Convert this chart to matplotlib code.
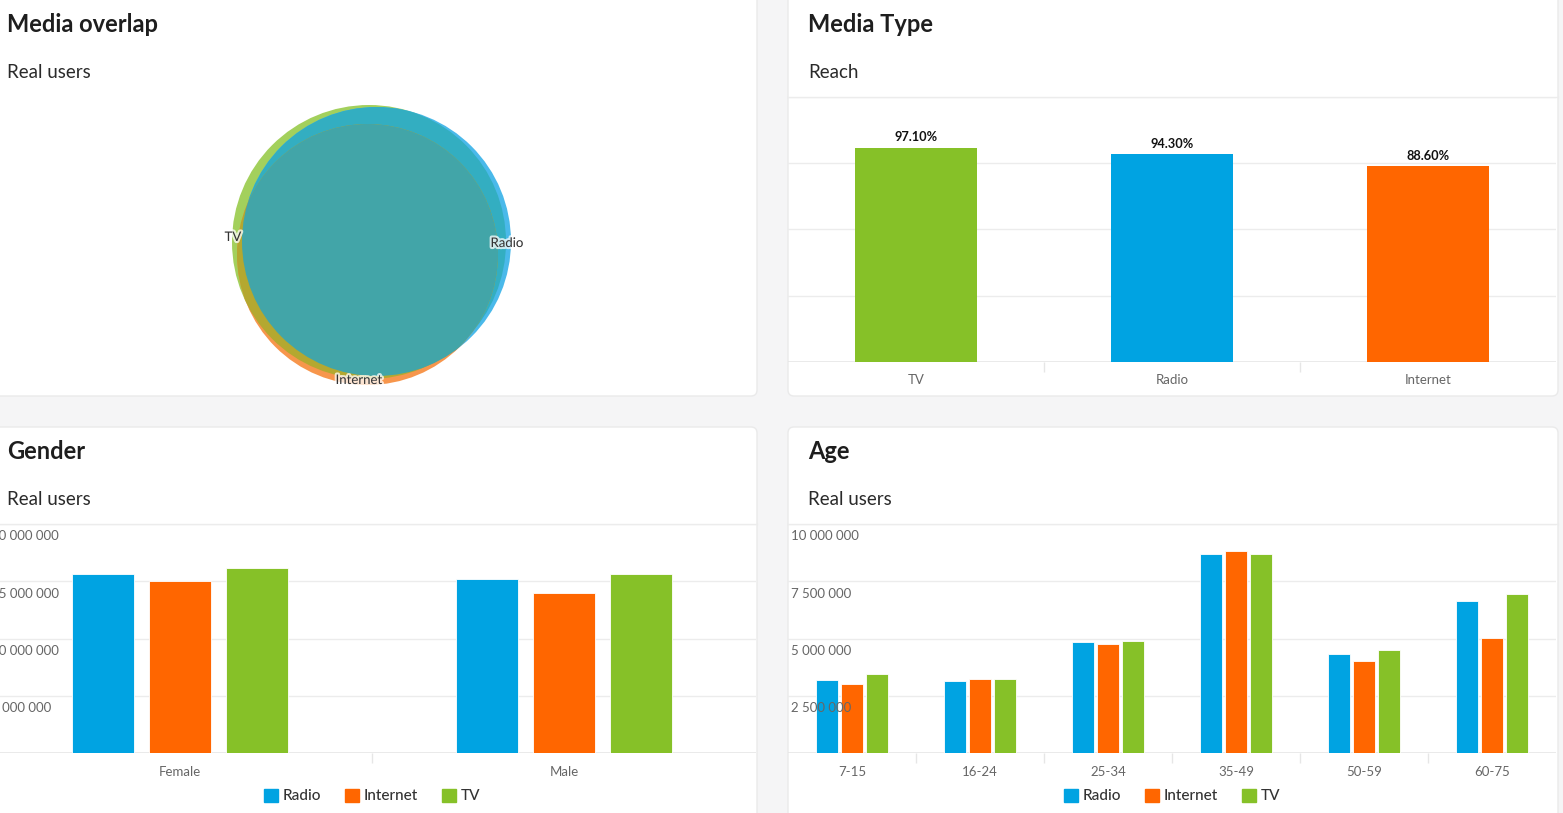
import matplotlib
matplotlib.use("Agg")
import matplotlib.pyplot as plt
from matplotlib.patches import Circle, FancyBboxPatch, Patch
import matplotlib.patheffects as pe
import numpy as np

plt.rcParams['font.family'] = ['Lato', 'DejaVu Sans']

# ---- data ----
media_types = ['TV', 'Radio', 'Internet']
reach = [97.1, 94.3, 88.6]

series = ['Radio', 'Internet', 'TV']

genders = ['Female', 'Male']
gender_radio = [15.65e6, 15.22e6]
gender_internet = [15.0e6, 14.0e6]
gender_tv = [16.14e6, 15.65e6]

ages = ['7-15', '16-24', '25-34', '35-49', '50-59', '60-75']
age_radio = [3.19e6, 3.13e6, 4.85e6, 8.67e6, 4.33e6, 6.62e6]
age_internet = [3.03e6, 3.23e6, 4.75e6, 8.83e6, 4.01e6, 5.01e6]
age_tv = [3.45e6, 3.23e6, 4.91e6, 8.71e6, 4.49e6, 6.94e6]

# ---- style ----
C_RADIO = '#00a3e2'
C_INTERNET = '#ff6600'
C_TV = '#86c128'
colors = {'Radio': C_RADIO, 'Internet': C_INTERNET, 'TV': C_TV}
GRID = '#ececec'
TICK = '#666666'
W, H = 1563, 813

fig = plt.figure(figsize=(W / 100, H / 100), dpi=100)
fig.patch.set_facecolor('#f5f5f6')

# pixel-space background axes
bg = fig.add_axes([0, 0, 1, 1], zorder=-1)
bg.set_xlim(0, W)
bg.set_ylim(H, 0)
bg.axis('off')


def px_axes(x0, y0, x1, y1):
    return fig.add_axes([x0 / W, 1 - y1 / H, (x1 - x0) / W, (y1 - y0) / H])


def panel(x0, y0, x1, y1):
    p = FancyBboxPatch((x0, y0), x1 - x0, y1 - y0,
                       boxstyle='round,pad=0,rounding_size=6',
                       fc='white', ec='#eaeaea', lw=1)
    bg.add_patch(p)


def header(x, y, title, sub):
    bg.text(x, y, title, fontsize=17, fontweight='bold', color='#1e1e1e',
            va='center', ha='left')
    bg.text(x, y + 48, sub, fontsize=13.5, color='#2a2a2a', va='center', ha='left')


panel(-13, -8, 757, 396)
panel(788, -8, 1558, 396)
panel(-13, 427, 757, 830)
panel(788, 427, 1558, 830)

header(7, 24, 'Media overlap', 'Real users')
header(808, 24, 'Media Type', 'Reach')
header(7, 451, 'Gender', 'Real users')
header(808, 451, 'Age', 'Real users')

bg.plot([788, 1558], [97, 97], color=GRID, lw=1)
bg.plot([-13, 757], [524, 524], color=GRID, lw=1)
bg.plot([788, 1558], [524, 524], color=GRID, lw=1)

# ---- Venn ----
venn = {
    'TV': (369, 242, 137),
    'Radio': (376.5, 241.5, 134.5),
    'Internet': (367.5, 254.5, 130.5),
}


def circ(name, **kw):
    x, y, r = venn[name]
    return Circle((x, y), r, transform=bg.transData, **kw)


bg.add_patch(circ('TV', fc='#a3d05c', ec='none'))
bg.add_patch(circ('Radio', fc='#4ab9ea', ec='none'))
bg.add_patch(circ('Internet', fc='#f7964c', ec='none'))
p = circ('Radio', fc='#33aec1', ec='none')
p.set_clip_path(circ('TV'))
bg.add_patch(p)
p = circ('Internet', fc='#b4a830', ec='none')
p.set_clip_path(circ('TV'))
bg.add_patch(p)
p = circ('Internet', fc='#42a5a8', ec='none')
p.set_clip_path(circ('Radio'))
bg.add_patch(p)

halo = [pe.withStroke(linewidth=3, foreground='white', alpha=0.75)]
for txt, (lx, ly) in zip(['TV', 'Radio', 'Internet'], [(233, 237), (507, 243), (359, 380)]):
    bg.text(lx, ly, txt, fontsize=9.5, color='#333333', ha='center', va='center',
            path_effects=halo)


def style_axes(ax, ncat, ymax, yticks):
    ax.set_xlim(-0.5, ncat - 0.5)
    ax.set_ylim(0, ymax)
    for s in ax.spines.values():
        s.set_visible(False)
    ax.set_facecolor('none')
    ax.set_yticks(yticks)
    ax.tick_params(axis='y', length=0, labelleft=False)
    ax.grid(axis='y', color=GRID, lw=1)
    ax.axhline(0, color='#e6e6e6', lw=1.2, zorder=1)
    ax.set_axisbelow(True)
    ax.set_xticks(range(ncat))
    ax.tick_params(axis='x', which='major', length=0, pad=9, labelsize=9.5,
                   labelcolor=TICK)
    ax.set_xticks(np.arange(ncat - 1) + 0.5, minor=True)
    ax.tick_params(axis='x', which='minor', length=7.5, width=1, color='#e6e6e6')


def fmt(v):
    return f'{int(v):,}'.replace(',', ' ')


def ylabels(ax, ticks):
    for t in ticks:
        ax.annotate(fmt(t), xy=(0, t), xycoords=('axes fraction', 'data'),
                    xytext=(2.5, -4.5), textcoords='offset points', va='top', ha='left',
                    fontsize=9.5, color=TICK, zorder=10, annotation_clip=False)


def grouped(ax, cats, vals, width, pitch):
    x = np.arange(len(cats))
    for i, name in enumerate(series):
        ax.bar(x + (i - 1) * pitch, vals[name], width, color=colors[name],
               edgecolor='white', linewidth=0.6, zorder=3)
    ax.set_xticklabels(cats)
    handles = [Patch(color=colors[n], label=n) for n in series]
    leg = ax.legend(handles=handles, loc='center', bbox_to_anchor=(0.5, -0.188),
                    ncol=3, frameon=False, fontsize=11, handlelength=0.95,
                    handleheight=0.95, handletextpad=0.3, columnspacing=1.55)
    for t in leg.get_texts():
        t.set_color('#333333')
        t.set_fontweight('medium')


# ---- Media Type ----
ax1 = px_axes(788, 97, 1556, 362)
style_axes(ax1, len(media_types), 120, [30, 60, 90, 120])
bars = ax1.bar(range(len(media_types)), reach, 0.48,
               color=[colors[m] for m in media_types], zorder=3)
ax1.set_xticklabels(media_types)
for b, v in zip(bars, reach):
    ax1.annotate(f'{v:.2f}%', xy=(b.get_x() + b.get_width() / 2, v),
                 xytext=(0, 3), textcoords='offset points', ha='center', va='bottom',
                 fontsize=9.2, fontweight='bold', color='#111111')

# ---- Gender ----
gticks = [5e6, 10e6, 15e6, 20e6]
ax2 = px_axes(-12, 524, 756, 753)
style_axes(ax2, len(genders), 20e6, gticks)
grouped(ax2, genders, {'Radio': gender_radio, 'Internet': gender_internet, 'TV': gender_tv},
        0.161, 0.2005)
ylabels(ax2, gticks)

# ---- Age ----
aticks = [2.5e6, 5e6, 7.5e6, 10e6]
ax3 = px_axes(788, 524, 1556, 753)
style_axes(ax3, len(ages), 10e6, aticks)
grouped(ax3, ages, {'Radio': age_radio, 'Internet': age_internet, 'TV': age_tv},
        0.172, 0.195)
ylabels(ax3, aticks)

fig.savefig('out.png', dpi=100, facecolor=fig.get_facecolor())
